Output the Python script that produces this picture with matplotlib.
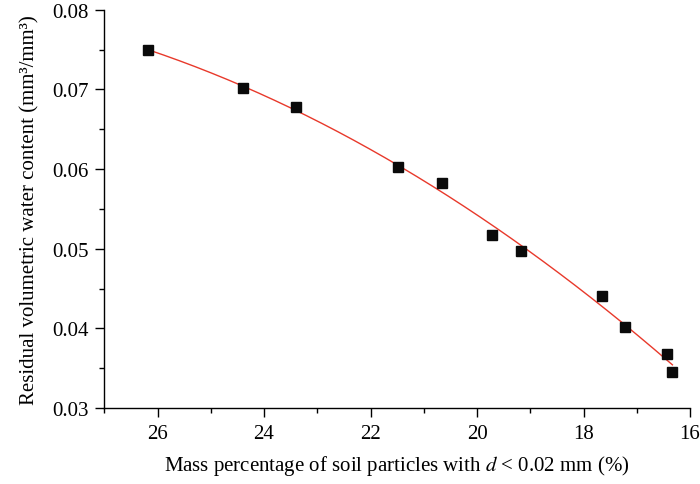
import numpy as np
import matplotlib
matplotlib.use("Agg")
import matplotlib.pyplot as plt
from matplotlib.ticker import MultipleLocator

# Mass percentage of fine particles (d < 0.02 mm) and residual water content
fine_fraction = [26.18, 24.40, 23.40, 21.48, 20.65, 19.72, 19.18, 17.65, 17.22, 16.44, 16.33]
residual_theta = [0.0749, 0.0702, 0.0678, 0.0603, 0.0582, 0.0517, 0.0497, 0.0440, 0.0402, 0.0368, 0.0345]

x_ticks = [26, 24, 22, 20, 18, 16]
y_ticks = [0.03, 0.04, 0.05, 0.06, 0.07, 0.08]

plt.rcParams["font.family"] = ["Liberation Serif", "DejaVu Serif"]
plt.rcParams["mathtext.fontset"] = "stix"
plt.rcParams["font.size"] = 15

fig = plt.figure(figsize=(7.0, 4.85), dpi=100)
ax = fig.add_axes([0.149, 0.1567, 0.8367, 0.8213])

# Quadratic regression through the measurements
coef = np.polyfit(fine_fraction, residual_theta, 2)
xs = np.linspace(max(fine_fraction), min(fine_fraction), 200)
ax.plot(xs, np.polyval(coef, xs), color="#e8392b", lw=1.0, zorder=2)

ax.plot(fine_fraction, residual_theta, linestyle="none", marker="s",
        markersize=7.7, color="#0a0a0a", zorder=3)

ax.set_xlim(27, 16)
ax.set_ylim(0.03, 0.08)
ax.set_xticks(x_ticks)
ax.set_yticks(y_ticks)
ax.set_xticklabels([str(t) for t in x_ticks])
ax.set_yticklabels([f"{t:.2f}" for t in y_ticks])
ax.xaxis.set_minor_locator(MultipleLocator(1))
ax.yaxis.set_minor_locator(MultipleLocator(0.005))

for side in ("top", "right"):
    ax.spines[side].set_visible(False)
for side in ("left", "bottom"):
    ax.spines[side].set_linewidth(1.0)

ax.tick_params(which="major", direction="out", length=6.5, width=1.0, pad=5)
ax.tick_params(which="minor", direction="out", length=3.5, width=1.0)

ax.set_xlabel("Mass percentage of soil particles with $d$ < 0.02 mm (%)", labelpad=7)
ax.set_ylabel("Residual volumetric water content (mm³/mm³)", labelpad=9)

fig.savefig("out.png", dpi=100)
